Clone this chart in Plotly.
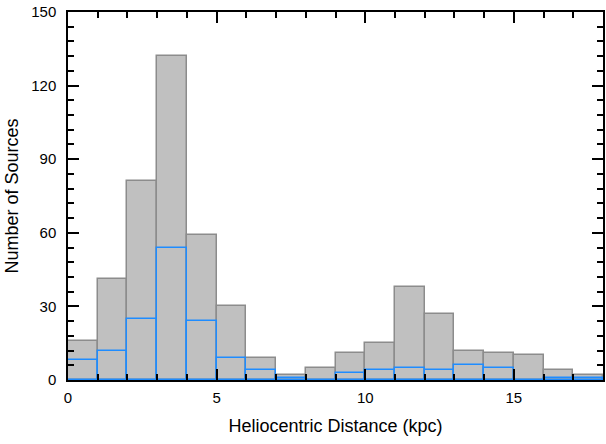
import plotly.graph_objects as go

bin_left = list(range(18))
all_sources = [16, 41, 81, 132, 59, 30, 9, 2, 5, 11, 15, 38, 27, 12, 11, 10, 4, 2]
subset = [8, 12, 25, 54, 24, 9, 4, 1, 0, 3, 4, 5, 4, 6, 5, 0, 1, 1]

centers = [b + 0.5 for b in bin_left]

fig = go.Figure()
fig.add_trace(go.Bar(x=centers, y=all_sources, width=1,
                     marker=dict(color="#c0c0c0", line=dict(color="#8c8c8c", width=1.5)),
                     showlegend=False))
fig.add_trace(go.Bar(x=centers, y=subset, width=1,
                     marker=dict(color="rgba(0,0,0,0)", line=dict(color="#1e8cff", width=1.5)),
                     showlegend=False))

font = dict(family="Liberation Sans, Arial, sans-serif", size=15, color="black")
fig.update_layout(
    width=606, height=444,
    margin=dict(l=68, r=1, t=12, b=64),
    paper_bgcolor="white", plot_bgcolor="white",
    barmode="overlay", bargap=0,
    font=font,
)
fig.update_xaxes(range=[0, 18], tickvals=[0, 5, 10, 15], ticks="inside", ticklen=11, tickwidth=1.5,
                 tickcolor="black", showline=True, linecolor="black", linewidth=1.5,
                 mirror="allticks", showgrid=False, zeroline=False, ticklabelstandoff=3,
                 minor=dict(dtick=1, tick0=0, ticks="inside", ticklen=6, tickcolor="black", tickwidth=1.5, showgrid=False),
                 title=dict(text="Heliocentric Distance (kpc)", standoff=15), tickfont=font)
fig.update_yaxes(range=[0, 150], tickvals=[0, 30, 60, 90, 120, 150], ticks="inside", ticklen=11, tickwidth=1.5,
                 tickcolor="black", showline=True, linecolor="black", linewidth=1.5,
                 mirror="allticks", showgrid=False, zeroline=False, ticklabelstandoff=7,
                 minor=dict(dtick=6, tick0=0, ticks="inside", ticklen=6, tickcolor="black", tickwidth=1.5, showgrid=False),
                 title=dict(text="Number of Sources", standoff=8), tickfont=font)

fig.write_html("out.html")
